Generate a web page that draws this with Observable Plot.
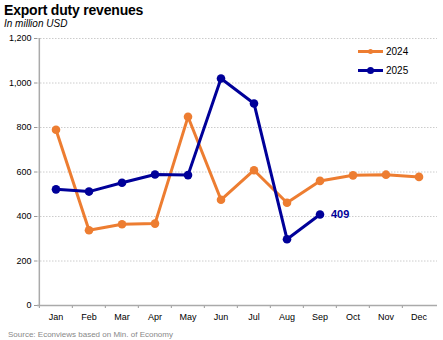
<!DOCTYPE html>
<html><head><meta charset="utf-8">
<script src="https://cdn.jsdelivr.net/npm/d3@7"></script>
<script src="https://cdn.jsdelivr.net/npm/@observablehq/plot@0.6"></script>
<style>
body{margin:0;background:#fff;font-family:"Liberation Sans",Arial,sans-serif;}
#wrap{position:relative;width:443px;height:340px;}
#title{position:absolute;left:4px;top:2px;font-size:14px;font-weight:bold;color:#000;letter-spacing:-0.2px;}
#sub{position:absolute;left:4px;top:18px;font-size:10px;font-style:italic;color:#000;}
#chart{position:absolute;left:0;top:30px;}
#src{position:absolute;left:8px;top:330px;font-size:8px;color:#888;}
.leg{position:absolute;font-size:10px;color:#000;display:flex;align-items:center;}
.leg span.l{display:inline-block;width:25px;height:3px;position:relative;margin-right:3px;}
.leg span.l i{position:absolute;left:9px;top:-2px;width:7px;height:7px;border-radius:50%;}
</style></head><body>
<div id="wrap">
<div id="title">Export duty revenues</div>
<div id="sub">In million USD</div>
<div id="chart"></div>
<div class="leg" style="left:358px;top:46px"><span class="l" style="background:#ED7D31"><i style="background:#ED7D31;width:5px;height:5px;left:10px;top:-1px"></i></span>2024</div>
<div class="leg" style="left:358px;top:65px"><span class="l" style="background:#000099"><i style="background:#000099"></i></span>2025</div>
<div id="src">Source: Econviews based on Min. of Economy</div>
</div>
<script>
const months = ["Jan","Feb","Mar","Apr","May","Jun","Jul","Aug","Sep","Oct","Nov","Dec"];
const v2024 = [790,338,365,368,848,475,608,462,560,585,588,578];
const v2025 = [522,512,552,589,586,1020,908,298,409];
const yTicks = [0,200,400,600,800,1000,1200];

const d24 = months.map((m,i)=>({m, v:v2024[i]}));
const d25 = v2025.map((v,i)=>({m:months[i], v}));
const last = d25[d25.length-1];

const W = 443, ML = 37, MR = 6;
const half = (W-ML-MR)/months.length/2;

const chart = Plot.plot({
  width: W, height: 295,
  marginLeft: ML, marginRight: MR, marginTop: 8, marginBottom: 20,
  style:{fontFamily:'"Liberation Sans",Arial,sans-serif', fontSize:"9px", color:"#000", background:"transparent"},
  x:{type:"band", domain:months, padding:0, label:null},
  y:{domain:[0,1200], ticks:yTicks, tickFormat:d3.format(","), label:null},
  marks:[
    Plot.gridY(yTicks.slice(1), {stroke:"#ccc", strokeOpacity:1, strokeDasharray:"1.5,1.5"}),
    Plot.axisY({ticks:yTicks, tickFormat:d3.format(","), tickSize:3, tickPadding:3, stroke:"#999"}),
    Plot.axisX({tickSize:0, tickPadding:8}),
    Plot.axisX({tickSize:3, dx:-half, tickFormat:()=>"", stroke:"#999"}),
    Plot.ruleY([0], {stroke:"#aaa", strokeWidth:1.5}),
    Plot.ruleX([months[0]], {dx:-half, stroke:"#aaa", strokeWidth:1.5}),
    Plot.line(d24, {x:"m", y:"v", stroke:"#ED7D31", strokeWidth:3}),
    Plot.dot(d24, {x:"m", y:"v", fill:"#ED7D31", r:4.3}),
    Plot.line(d25, {x:"m", y:"v", stroke:"#000099", strokeWidth:3}),
    Plot.dot(d25, {x:"m", y:"v", fill:"#000099", r:4.3}),
    Plot.text([last], {x:"m", y:"v", text:d=>String(d.v), dx:11, textAnchor:"start", fill:"#000099", fontWeight:"bold", fontSize:11})
  ]
});
document.getElementById("chart").appendChild(chart);
</script>
</body></html>
